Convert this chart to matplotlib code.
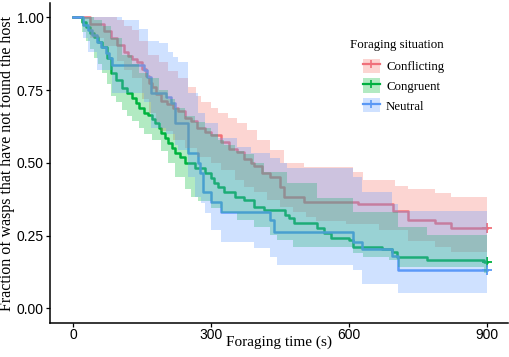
import numpy as np
import matplotlib
matplotlib.use("Agg")
import matplotlib.pyplot as plt
from matplotlib.patches import Patch
from matplotlib.lines import Line2D

# ---------------- data ----------------
groups = ["Conflicting", "Congruent", "Neutral"]

red_t = [0, 38, 68, 82, 96, 111, 120, 128, 140, 149, 158, 165, 172, 180, 192, 205, 218, 229, 243, 256,
         270, 286, 300, 321, 338, 357, 372, 386, 394, 410, 428, 449, 458, 501, 619, 696, 728, 786, 822]
red_s = [1.0, 0.976, 0.952, 0.929, 0.905, 0.881, 0.869, 0.857, 0.845, 0.821, 0.798, 0.774, 0.762, 0.738, 0.714,
         0.702, 0.690, 0.679, 0.655, 0.643, 0.619, 0.607, 0.595, 0.571, 0.548, 0.536, 0.512, 0.500, 0.488, 0.464,
         0.452, 0.417, 0.381, 0.366, 0.357, 0.333, 0.305, 0.294, 0.277]
red_hi_t = [0, 96, 111, 128, 143, 164, 186, 207, 229, 250, 267, 278, 300, 314, 336, 357, 379, 400, 428, 458,
            501, 608, 629, 700, 728, 786, 822]
red_hi = [1.0, 0.99, 0.97, 0.955, 0.92, 0.87, 0.845, 0.815, 0.79, 0.76, 0.73, 0.71, 0.69, 0.672, 0.655, 0.638,
          0.614, 0.58, 0.545, 0.50, 0.486, 0.47, 0.44, 0.42, 0.41, 0.395, 0.383]
red_lo_t = [0, 38, 68, 96, 111, 128, 149, 165, 180, 192, 218, 243, 270, 300, 321, 351, 372, 394, 422, 449,
            479, 507, 529, 593, 664, 728, 786, 822]
red_lo = [1.0, 0.93, 0.90, 0.85, 0.82, 0.79, 0.72, 0.67, 0.64, 0.61, 0.58, 0.55, 0.52, 0.50, 0.476, 0.44,
          0.418, 0.40, 0.373, 0.349, 0.33, 0.315, 0.30, 0.29, 0.27, 0.23, 0.21, 0.195]

green_t = [0, 19, 28, 36, 45, 55, 64, 74, 83, 94, 107, 118, 128, 136, 143, 155, 164, 172, 179, 186, 192, 200,
           207, 215, 222, 233, 244, 265, 286, 300, 307, 314, 329, 351, 372, 394, 415, 460, 470, 480, 530, 545,
           560, 600, 608, 672, 693, 704, 769, 893]
green_s = [1.0, 0.983, 0.966, 0.948, 0.931, 0.914, 0.897, 0.862, 0.810, 0.786, 0.758, 0.741, 0.724, 0.707,
           0.690, 0.672, 0.664, 0.650, 0.638, 0.621, 0.603, 0.586, 0.569, 0.552, 0.535, 0.521, 0.500, 0.483,
           0.466, 0.448, 0.431, 0.418, 0.400, 0.383, 0.373, 0.349, 0.338, 0.321, 0.310, 0.294, 0.277, 0.260,
           0.242, 0.235, 0.211, 0.205, 0.194, 0.177, 0.166, 0.159]
green_hi_t = [0, 45, 64, 83, 107, 128, 143, 164, 186, 207, 222, 244, 265, 286, 300, 314, 329, 351, 372, 394,
              415, 464, 530, 608, 707, 769]
green_hi = [1.0, 0.99, 0.97, 0.93, 0.87, 0.84, 0.81, 0.79, 0.75, 0.72, 0.69, 0.66, 0.64, 0.62, 0.60, 0.58,
            0.56, 0.54, 0.53, 0.50, 0.47, 0.43, 0.38, 0.33, 0.28, 0.252]
green_lo_t = [0, 19, 28, 36, 45, 55, 64, 74, 83, 94, 107, 118, 128, 143, 155, 171, 192, 207, 222, 244, 256,
              272, 300, 321, 357, 394, 428, 443, 479, 608, 629, 686, 707, 893]
green_lo = [1.0, 0.95, 0.92, 0.89, 0.86, 0.84, 0.81, 0.77, 0.73, 0.71, 0.68, 0.66, 0.645, 0.62, 0.60, 0.58,
            0.54, 0.50, 0.45, 0.41, 0.383, 0.37, 0.345, 0.328, 0.304, 0.28, 0.252, 0.235, 0.21, 0.19, 0.177,
            0.166, 0.142, 0.12]

blue_t = [0, 21, 32, 42, 53, 61, 72, 79, 85, 154, 160, 169, 203, 212, 222, 250, 272, 276, 282, 300, 321,
          428, 437, 608, 627, 693, 707]
blue_s = [1.0, 0.975, 0.958, 0.940, 0.916, 0.899, 0.879, 0.861, 0.837, 0.82, 0.796, 0.741, 0.727, 0.706,
          0.638, 0.535, 0.50, 0.466, 0.40, 0.366, 0.332, 0.304, 0.263, 0.229, 0.205, 0.18, 0.132]
blue_hi_t = [0, 107, 143, 164, 186, 207, 218, 229, 250, 272, 286, 314, 357, 386, 428, 449, 464, 608, 627,
             693, 707]
blue_hi = [1.0, 0.99, 0.96, 0.92, 0.913, 0.882, 0.865, 0.848, 0.74, 0.67, 0.638, 0.586, 0.555, 0.535, 0.517,
           0.50, 0.483, 0.45, 0.40, 0.36, 0.333]
blue_lo_t = [0, 21, 32, 53, 85, 154, 169, 203, 222, 229, 250, 265, 278, 286, 300, 321, 394, 428, 443, 608,
             627, 707]
blue_lo = [1.0, 0.93, 0.88, 0.82, 0.74, 0.71, 0.62, 0.60, 0.56, 0.545, 0.45, 0.383, 0.362, 0.328, 0.27,
           0.228, 0.208, 0.177, 0.149, 0.13, 0.085, 0.053]

t_end = 900
x_ticks = [0, 300, 600, 900]
y_ticks = [0.00, 0.25, 0.50, 0.75, 1.00]
y_tick_labels = ["0.00", "0.25", "0.50", "0.75", "1.00"]

line_colors = ["#F0707A", "#00B040", "#5A98F5"]
band_colors = ["#F8766D", "#00BA38", "#619CFF"]


def step_eval(ts, vs, grid):
    ts = np.asarray(ts, float)
    vs = np.asarray(vs, float)
    idx = np.searchsorted(ts, grid, side="right") - 1
    return vs[np.clip(idx, 0, len(vs) - 1)]


series = [
    (red_t, red_s, red_lo_t, red_lo, red_hi_t, red_hi),
    (green_t, green_s, green_lo_t, green_lo, green_hi_t, green_hi),
    (blue_t, blue_s, blue_lo_t, blue_lo, blue_hi_t, blue_hi),
]

plt.rcParams["font.family"] = ["Liberation Serif", "DejaVu Serif"]

fig = plt.figure(figsize=(5.10, 3.57), dpi=100)
ax = fig.add_axes([0.098, 0.094, 0.898, 0.898])

for i, (st, ss, lt, lv, ht, hv) in enumerate(series):
    grid = np.unique(np.concatenate([st, lt, ht, [t_end]]))
    s = step_eval(st, ss, grid)
    ax.step(grid, s, where="post", color=line_colors[i], lw=1.8, zorder=2)
    ax.plot([t_end], [s[-1]], marker="+", ms=7, mew=1.3, color=line_colors[i], zorder=2)

for i, (st, ss, lt, lv, ht, hv) in enumerate(series):
    grid = np.unique(np.concatenate([st, lt, ht, [t_end]]))
    lo = step_eval(lt, lv, grid)
    hi = step_eval(ht, hv, grid)
    ax.fill_between(grid, lo, hi, step="post", color=band_colors[i], alpha=0.3, lw=0, zorder=3)

ax.set_xlim(-50, 945)
ax.set_ylim(-0.052, 1.05)
ax.set_xticks(x_ticks)
ax.set_xticklabels([str(v) for v in x_ticks], fontfamily="Liberation Sans", fontsize=10)
ax.set_yticks(y_ticks)
ax.set_yticklabels(y_tick_labels, fontfamily="Liberation Sans", fontsize=10)
ax.tick_params(direction="out", length=3, width=0.9, color="black", labelcolor="black", pad=1.5)
ax.tick_params(axis="x", pad=0.5)
for side in ["top", "right"]:
    ax.spines[side].set_visible(False)
for side in ["left", "bottom"]:
    ax.spines[side].set_linewidth(1.1)
    ax.spines[side].set_color("black")

ax.set_xlabel("Foraging time (s)", fontsize=11, labelpad=-5)
ax.set_ylabel("Fraction of wasps that have not found the host", fontsize=11.5, labelpad=1)

# legend title as its own text, entries indented beneath it
ax.text(0.655, 0.87, "Foraging situation", transform=ax.transAxes, fontsize=9.3,
        ha="left", va="center")
handles = []
for i in range(3):
    handles.append((Patch(facecolor=band_colors[i], alpha=0.3, edgecolor="none"),
                    Line2D([], [], color=line_colors[i], lw=1.6, marker="+", ms=6, mew=1.2)))
leg = ax.legend(handles, groups, loc="upper left",
                bbox_to_anchor=(0.683, 0.826), frameon=False, fontsize=9.3,
                handlelength=1.35, handleheight=1.3, handletextpad=0.45, labelspacing=0.42,
                borderpad=0, borderaxespad=0)

fig.savefig("out.png", dpi=100)
